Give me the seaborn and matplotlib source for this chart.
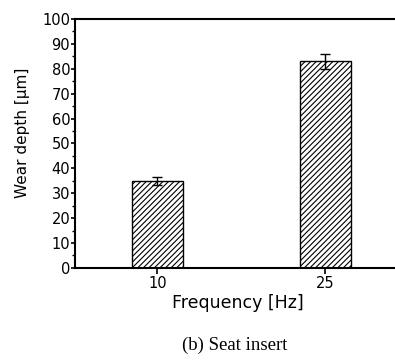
import matplotlib
matplotlib.use("Agg")
import matplotlib.pyplot as plt
from matplotlib.ticker import MultipleLocator
import seaborn as sns
import pandas as pd

# data
frequency = ["10", "25"]
wear_depth = [34.8, 83.0]
wear_err = [1.6, 3.0]

sns.set_style("ticks")
plt.rcParams["font.family"] = ["DejaVu Sans"]
plt.rcParams["hatch.linewidth"] = 0.8
plt.rcParams["text.color"] = "black"
plt.rcParams["axes.labelcolor"] = "black"
plt.rcParams["xtick.color"] = "black"
plt.rcParams["ytick.color"] = "black"

df = pd.DataFrame({"freq": frequency, "depth": wear_depth})

fig = plt.figure(figsize=(3.95, 3.62), dpi=100)
ax = fig.add_axes([0.19, 0.26, 0.825, 0.6875])

sns.barplot(data=df, x="freq", y="depth", ax=ax, color="white",
            edgecolor="black", linewidth=1.0, width=0.30, hatch="//////",
            errorbar=None)
ax.errorbar(range(len(frequency)), wear_depth, yerr=wear_err, fmt="none",
            ecolor="black", elinewidth=1.0, capsize=3.6, capthick=1.0)

ax.set_ylim(0, 100)
ax.set_xlim(-0.49, 1.45)
ax.set_yticks(range(0, 101, 10))
ax.yaxis.set_minor_locator(MultipleLocator(5))
ax.tick_params(axis="y", which="major", direction="out", length=3, width=1.2,
               labelsize=10.5, pad=0.5)
ax.tick_params(axis="y", which="minor", direction="out", length=2, width=1.0)
ax.tick_params(axis="x", direction="out", length=4, width=1.2,
               labelsize=10.5, pad=2)

for side in ["left", "top", "bottom"]:
    ax.spines[side].set_linewidth(1.5)
    ax.spines[side].set_color("black")
ax.spines["right"].set_visible(False)

ax.set_ylabel("Wear depth [\u03bcm]", fontsize=11)
ax.yaxis.set_label_coords(-0.138, 0.542)
ax.set_xlabel("Frequency [Hz]", fontsize=12.5, labelpad=2)

fig.text(0.595, 0.047, "(b) Seat insert", ha="center", va="center",
         fontsize=13.5, family=["Liberation Serif", "DejaVu Serif"])

fig.savefig("out.png", dpi=100)
